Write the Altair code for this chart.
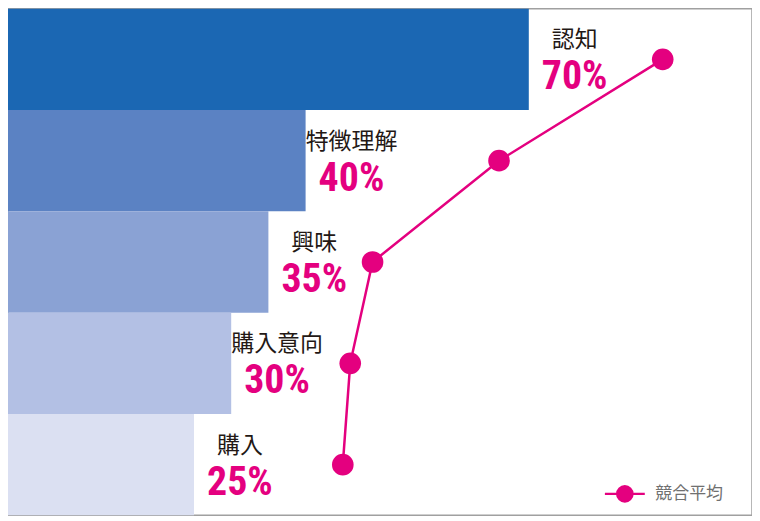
import altair as alt
import pandas as pd

categories = ["認知", "特徴理解", "興味", "購入意向", "購入"]
brand_values = [70, 40, 35, 30, 25]
competitor_values = [88, 66, 49, 46, 45]
bar_colors = ["#1b67b3", "#5b82c3", "#8aa2d4", "#b3c0e4", "#dbe0f2"]
series_name = "競合平均"
magenta = "#e4007f"

df = pd.DataFrame({
    "cat": categories,
    "val": brand_values,
    "comp": competitor_values,
    "order": list(range(len(categories))),
    "pct": [f"{v}%" for v in brand_values],
    "series": series_name,
})

y = alt.Y("cat:N", sort=categories,
          scale=alt.Scale(paddingInner=0, paddingOuter=0), axis=None)
x_scale = alt.Scale(domain=[0, 100], nice=False, zero=True)

base = alt.Chart(df)

bars = base.mark_bar(strokeWidth=0, cornerRadius=0).encode(
    x=alt.X("val:Q", scale=x_scale, axis=None),
    y=y,
    fill=alt.Fill("cat:N", scale=alt.Scale(domain=categories, range=bar_colors), legend=None),
)

legend = alt.Legend(
    title=None,
    orient="none",
    legendX=597,
    legendY=465,
    symbolType="M-1,0H1M0.38,0A0.38,0.38,0,1,1,-0.38,0A0.38,0.38,0,1,1,0.38,0Z",
    symbolSize=1600,
    symbolStrokeWidth=2.5,
    symbolFillColor=magenta,
    symbolStrokeColor=magenta,
    labelFont="Noto Sans CJK JP",
    labelFontSize=17,
    labelColor="#707070",
    labelOffset=9,
    padding=0,
)

color = alt.Color("series:N", scale=alt.Scale(domain=[series_name], range=[magenta]), legend=legend)

line = base.mark_line(strokeWidth=2.5).encode(
    x=alt.X("comp:Q", scale=x_scale, axis=None),
    y=y,
    order="order:O",
    color=color,
)

points = base.mark_circle(size=470, opacity=1).encode(
    x=alt.X("comp:Q", scale=x_scale, axis=None),
    y=y,
    color=color,
)

names = base.mark_text(
    font="Noto Sans CJK JP", fontSize=23, fontWeight="normal", color="#231815",
    align="center", baseline="middle", dx=46, dy=-19,
).encode(
    x=alt.X("val:Q", scale=x_scale, axis=None),
    y=y,
    text="cat:N",
)

pcts = base.mark_text(
    font="Roboto Condensed, Roboto", fontSize=40, fontWeight="bold",
    color=magenta, align="center", baseline="middle", dx=46, dy=18,
).encode(
    x=alt.X("val:Q", scale=x_scale, axis=None),
    y=y,
    text="pct:N",
)

chart = alt.layer(bars, line, points, names, pcts).properties(
    width=746, height=508,
    autosize=alt.AutoSizeParams(type="none"),
    padding=0,
).configure_view(stroke="#a0a0a0", strokeWidth=1.5)

chart.save("out.html", embed_options={"renderer": "svg", "actions": False})
